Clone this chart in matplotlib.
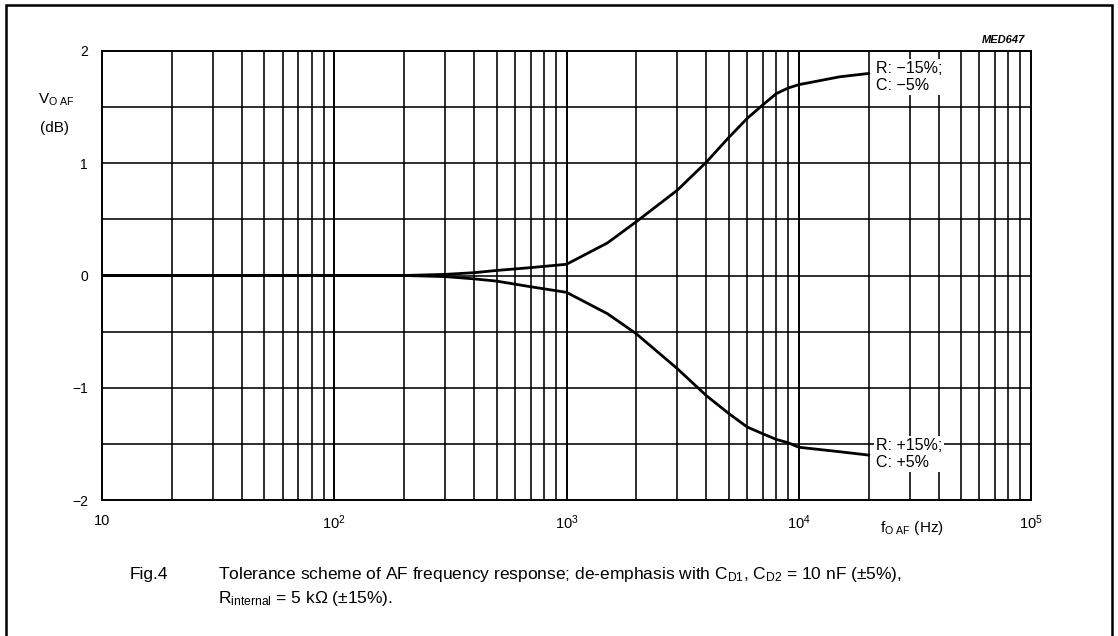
import numpy as np
import matplotlib
matplotlib.use("Agg")
import matplotlib.pyplot as plt
from matplotlib.patches import Rectangle

plt.rcParams['font.family'] = ['Liberation Sans', 'DejaVu Sans']
plt.rcParams['mathtext.fontset'] = 'custom'
plt.rcParams['mathtext.rm'] = 'Liberation Sans'
plt.rcParams['mathtext.it'] = 'Liberation Sans:italic'

# values
freq = [10, 20, 50, 100, 200, 300, 400, 500, 700, 1000, 1500, 2000, 3000,
        4000, 5000, 6000, 7000, 8000, 9000, 10000, 15000, 20000]
upper_db = [0, 0, 0, 0, 0, 0.01, 0.025, 0.045, 0.07, 0.10, 0.29, 0.48, 0.76,
            1.01, 1.23, 1.40, 1.52, 1.62, 1.67, 1.70, 1.77, 1.80]
lower_db = [0, 0, 0, 0, 0, -0.01, -0.03, -0.05, -0.10, -0.15, -0.34, -0.52, -0.83,
            -1.07, -1.23, -1.35, -1.41, -1.46, -1.49, -1.53, -1.57, -1.60]

xticks = [10, 100, 1000, 10000, 100000]
xtick_labels = ['10', '$10^{2}$', '$10^{3}$', '$10^{4}$', '$10^{5}$']
yticks = [-2, -1, 0, 1, 2]
ytick_labels = ['\u22122', '\u22121', '0', '1', '2']
upper_label = 'R: \u221215%;\nC: \u22125%'
lower_label = 'R: +15%;\nC: +5%'

fig = plt.figure(figsize=(11.18, 6.36), dpi=100)
ax = fig.add_axes([102/1118, 1 - 500/636, 929/1118, 449/636])

ax.set_xscale('log')
ax.set_xlim(10, 1e5)
ax.set_ylim(-2, 2)

# grid: every 1..9 per decade, every 0.5 dB
for dec in [10, 100, 1000, 10000]:
    for m in range(2, 10):
        ax.axvline(dec * m, color='black', lw=1.15, zorder=1)
for d in xticks[1:-1]:
    ax.axvline(d, color='black', lw=1.4, zorder=1)
for yv in np.arange(-1.5, 2.0, 0.5):
    ax.axhline(yv, color='black', lw=1.15, zorder=1)

ax.plot(freq, upper_db, color='black', lw=2.0, zorder=3)
ax.plot(freq, lower_db, color='black', lw=2.0, zorder=3)

box = dict(facecolor='white', edgecolor='none', pad=1.5)
ax.text(21500, 1.77, upper_label, ha='left', va='center', fontsize=11.5,
        linespacing=1.15, bbox=box, zorder=4)
ax.text(21500, -1.59, lower_label, ha='left', va='center', fontsize=11.5,
        linespacing=1.15, bbox=box, zorder=4)

ax.set_xticks(xticks)
ax.set_xticklabels(xtick_labels, fontsize=10.5)
ax.set_yticks(yticks)
ax.set_yticklabels(ytick_labels, fontsize=10)
ax.minorticks_off()
ax.tick_params(length=0, pad=10)
for s in ax.spines.values():
    s.set_linewidth(1.4)

fig.text(1025/1118, 1 - 40/636, 'MED647', ha='right', va='center',
         fontsize=8, style='italic', weight='bold')
fig.text(38/1118, 1 - 100/636, r'V$_{\rm O\ AF}$', ha='left', va='center', fontsize=11)
fig.text(40/1118, 1 - 128/636, '(dB)', ha='left', va='center', fontsize=11)
fig.text(880/1118, 1 - 528/636, r'f$_{\rm O\ AF}$ (Hz)', ha='left', va='center', fontsize=11)

fig.text(130/1118, 1 - 575/636, 'Fig.4', ha='left', va='center', fontsize=12.5)
fig.text(218/1118, 1 - 575/636,
         r'Tolerance scheme of AF frequency response; de-emphasis with C$_{\rm D1}$, '
         r'C$_{\rm D2}$ = 10 nF (±5%),', ha='left', va='center', fontsize=12.5)
fig.text(218/1118, 1 - 598/636, r'R$_{\rm internal}$ = 5 k$\Omega$ (±15%).',
         ha='left', va='center', fontsize=12.5)

# page frame
fig.add_artist(Rectangle((6/1118, -0.05), 1106/1118, 1.05 - 5/636,
                         transform=fig.transFigure, fill=False,
                         edgecolor='black', lw=1.8))

fig.savefig('out.png', dpi=100)
